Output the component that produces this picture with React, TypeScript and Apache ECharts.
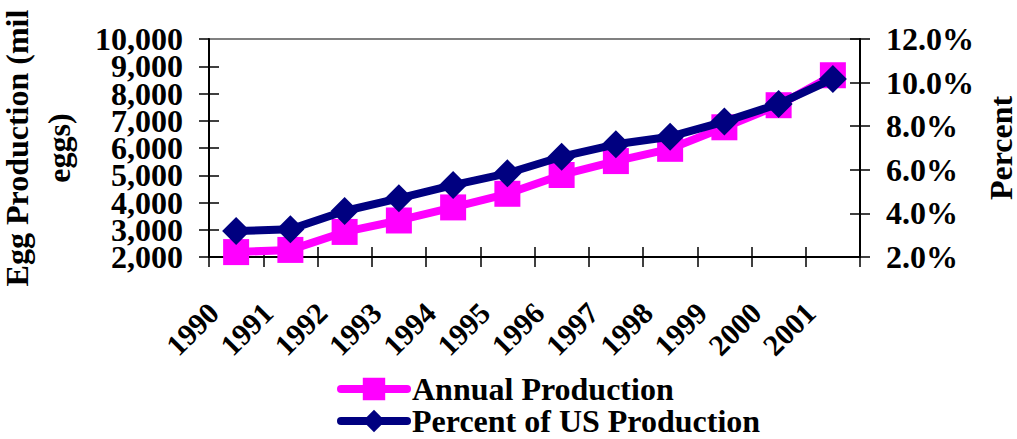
import React, { useEffect, useRef } from "react";
import * as echarts from "echarts";

const years = ["1990", "1991", "1992", "1993", "1994", "1995", "1996", "1997", "1998", "1999", "2000", "2001"];
const annualProduction = [2180, 2260, 2920, 3340, 3820, 4320, 5010, 5520, 5970, 6760, 7570, 8670];
const percentOfUS = [3.19, 3.27, 4.11, 4.69, 5.3, 5.84, 6.6, 7.17, 7.52, 8.21, 9.02, 10.17];
const leftTicks = { min: 2000, max: 10000, interval: 1000 };
const rightTicks = { min: 2, max: 12, interval: 2 };

const FONT = "'Liberation Serif', 'Times New Roman', serif";

export default function App() {
  const ref = useRef<HTMLDivElement>(null);
  useEffect(() => {
    if (!ref.current) return;
    const chart = echarts.init(ref.current, null, { renderer: "svg" });
    const txt = { fontFamily: FONT, fontWeight: "bold" as const, color: "#000" };
    const axisLineStyle = { show: true, lineStyle: { color: "#000", width: 2 } };
    const tickStyle = { color: "#000", width: 1.5 };
    const fmtThousands = (v: number) => v.toLocaleString("en-US");
    // left labels are split over two overlaid axes so none is auto-hidden
    const isEvenStep = (v: number) => Math.round((v - leftTicks.min) / leftTicks.interval) % 2 === 0;
    chart.setOption({
      animation: false,
      backgroundColor: "#fff",
      grid: {
        left: 209,
        right: 157,
        top: 39,
        bottom: 182,
        show: true,
        borderColor: "#808080",
        borderWidth: 2,
        containLabel: false,
        outerBoundsMode: "none",
      },
      legend: {
        orient: "vertical",
        left: 337,
        top: 373,
        height: 64,
        padding: 0,
        itemWidth: 66,
        itemHeight: 28,
        itemGap: 0,
        lineStyle: { width: 8, cap: "round" },
        textStyle: { ...txt, fontSize: 32, lineHeight: 30 },
        data: ["Annual Production", "Percent of US Production"],
      },
      xAxis: [
        {
          type: "category",
          data: years,
          boundaryGap: true,
          position: "bottom",
          axisLine: axisLineStyle,
          axisTick: { show: true, inside: false, length: 10, lineStyle: tickStyle },
          axisLabel: {
            ...txt,
            fontSize: 30,
            rotate: 45,
            margin: 28,
            padding: [0, 32, 0, 0],
            interval: 0,
            hideOverlap: false,
          },
          splitLine: { show: false },
        },
        {
          type: "category",
          data: years,
          boundaryGap: true,
          position: "bottom",
          axisLine: { show: false },
          axisTick: { show: true, inside: true, length: 10, lineStyle: tickStyle },
          axisLabel: { show: false },
          splitLine: { show: false },
        },
      ],
      yAxis: [
        {
          type: "value",
          position: "left",
          ...leftTicks,
          name: "Egg Production (mil\neggs)",
          nameLocation: "middle",
          nameRotate: 90,
          nameGap: 129,
          nameTextStyle: { ...txt, fontSize: 32, lineHeight: 42, align: "center" },
          axisLine: axisLineStyle,
          axisTick: { show: true, inside: false, length: 10, lineStyle: tickStyle },
          axisLabel: {
            ...txt,
            fontSize: 32,
            margin: 26,
            showMinLabel: true,
            showMaxLabel: true,
            hideOverlap: false,
            formatter: (v: number) => (isEvenStep(v) ? fmtThousands(v) : ""),
          },
          splitLine: { show: false },
        },
        {
          type: "value",
          position: "right",
          ...rightTicks,
          name: "Percent",
          nameLocation: "middle",
          nameRotate: 90,
          nameGap: 125,
          nameTextStyle: { ...txt, fontSize: 32, lineHeight: 26 },
          axisLine: axisLineStyle,
          axisTick: { show: true, inside: false, length: 10, lineStyle: tickStyle },
          axisLabel: {
            ...txt,
            fontSize: 32,
            margin: 26,
            showMinLabel: true,
            showMaxLabel: true,
            hideOverlap: false,
            formatter: (v: number) => v.toFixed(1) + "%",
          },
          splitLine: { show: false },
        },
        {
          type: "value",
          position: "left",
          ...leftTicks,
          axisLine: { show: false },
          axisTick: { show: true, inside: true, length: 10, lineStyle: tickStyle },
          axisLabel: {
            ...txt,
            fontSize: 32,
            margin: 26,
            showMinLabel: false,
            showMaxLabel: false,
            hideOverlap: false,
            formatter: (v: number) => (isEvenStep(v) ? "" : fmtThousands(v)),
          },
          splitLine: { show: false },
        },
        {
          type: "value",
          position: "right",
          ...rightTicks,
          axisLine: { show: false },
          axisTick: { show: true, inside: true, length: 10, lineStyle: tickStyle },
          axisLabel: { show: false },
          splitLine: { show: false },
        },
      ],
      series: [
        {
          name: "Annual Production",
          type: "line",
          xAxisIndex: 0,
          yAxisIndex: 0,
          data: annualProduction,
          symbol: "rect",
          symbolSize: 26,
          itemStyle: { color: "#FF00FF" },
          lineStyle: { color: "#FF00FF", width: 8, cap: "round" },
          z: 3,
        },
        {
          name: "Percent of US Production",
          type: "line",
          xAxisIndex: 0,
          yAxisIndex: 1,
          data: percentOfUS,
          symbol: "diamond",
          symbolSize: 28,
          itemStyle: { color: "#000080" },
          lineStyle: { color: "#000080", width: 8, cap: "round" },
          z: 4,
        },
      ],
    });
    return () => chart.dispose();
  }, []);
  return (
    <div
      ref={ref}
      style={{ position: "fixed", left: 0, top: 0, width: 1017, height: 439 }}
    />
  );
}
